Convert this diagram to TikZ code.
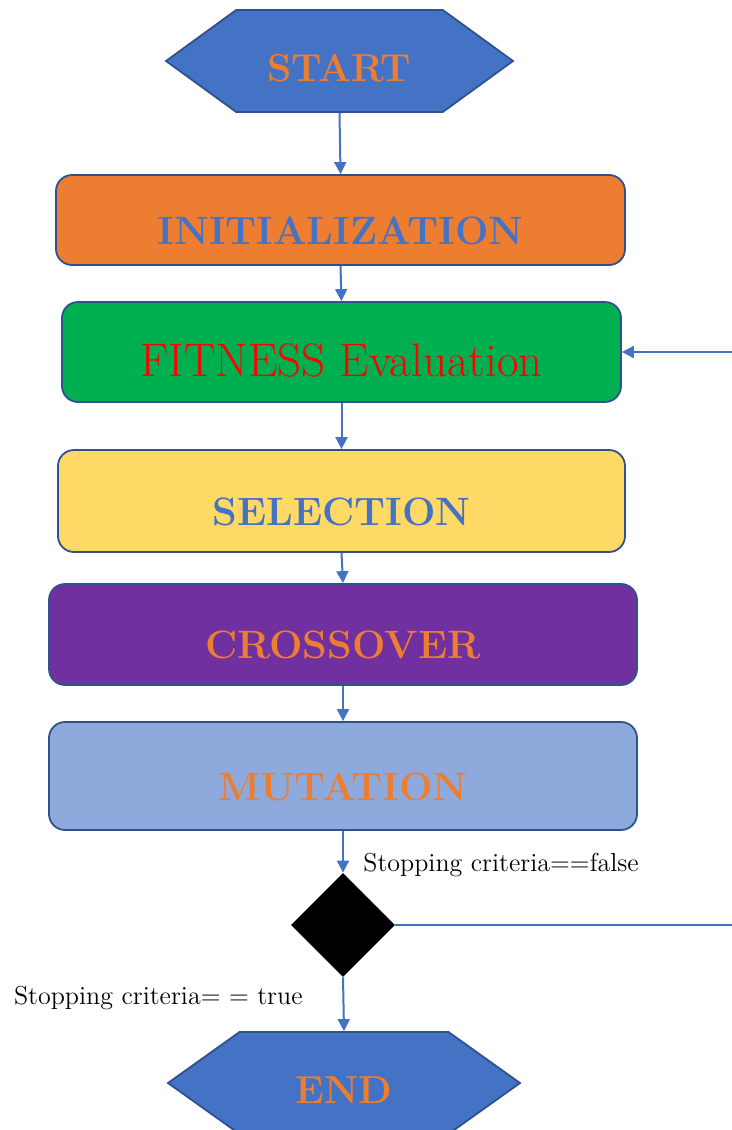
\documentclass[tikz,border=0pt]{standalone}
\usepackage{tikz}
\usetikzlibrary{shapes.geometric,shapes.symbols,arrows.meta}
\definecolor{hexblue}{HTML}{4472C4}
\definecolor{edgeblue}{HTML}{2F528F}
\definecolor{boxorange}{HTML}{ED7D31}
\definecolor{boxgreen}{HTML}{00B050}
\definecolor{boxyellow}{HTML}{FFD966}
\definecolor{boxpurple}{HTML}{7030A0}
\definecolor{boxlight}{HTML}{8EA9DB}
\tikzset{
	stage/.style={draw=edgeblue, line width=0.9pt, rounded corners=8pt, text height=24pt, text depth=0pt, font=\fontsize{19.8}{22}\selectfont\bfseries},
	terminal/.style={signal, signal to=east and west, draw=edgeblue, line width=0.9pt, fill=hexblue, text=boxorange, text height=20pt, text depth=0pt, font=\fontsize{19.5}{22}\selectfont\bfseries},
	flow/.style={draw=hexblue, line width=1pt, -{Triangle[width=6pt,length=6pt]}},
	plainflow/.style={draw=hexblue, line width=1pt},
	crit/.style={font=\fontsize{13}{15}\selectfont, inner sep=0pt}
}

\begin{document}
\begin{tikzpicture}[x=0.5pt, y=-0.5pt]
	\clip (0,0) rectangle (732,1130);
	\node[terminal, signal pointer angle=72, minimum width=173.5pt, minimum height=51pt] (start) at (339.5,61) {START};
	\node[stage, fill=boxorange, text=hexblue, minimum width=284.5pt, minimum height=45pt] (init) at (340.5,220) {INITIALIZATION};
	\node[stage, fill=boxgreen, text=red, font=\fontsize{23.5}{26}\selectfont, minimum width=279.5pt, minimum height=50pt] (fit) at (341.5,352) {FITNESS Evaluation};
	\node[stage, fill=boxyellow, text=hexblue, minimum width=283.5pt, minimum height=51pt] (sel) at (341.5,501) {SELECTION};
	\node[stage, fill=boxpurple, text=boxorange, minimum width=294pt, minimum height=50.5pt] (cross) at (343,634.5) {CROSSOVER};
	\node[stage, fill=boxlight, text=boxorange, minimum width=294pt, minimum height=54pt] (mut) at (343,776) {MUTATION};
	\node[diamond, fill=black, inner sep=0pt, minimum width=52pt, minimum height=52pt] (dec) at (343,925) {};
	\node[terminal, signal pointer angle=71, minimum width=176pt, minimum height=51pt] (end) at (344,1083) {END};
	\node[crit, anchor=west] (nostop) at (363,865) {Stopping criteria==false};
	\node[crit, anchor=east] (stop) at (303,998) {Stopping criteria= = true};
	\coordinate (loopin) at (732,352);
	\coordinate (loopout) at (732,925);
	\draw[flow] (start.south) -- (init.north);
	\draw[flow] (init.south) -- (fit.north);
	\draw[flow] (fit.south) -- (sel.north);
	\draw[flow] (sel.south) -- (cross.north);
	\draw[flow] (cross.south) -- (mut.north);
	\draw[flow] (mut.south) -- (dec.north);
	\draw[flow] (dec.south) -- (end.north);
	\draw[plainflow] (dec.east) -- (loopout);
	\draw[flow] (loopin) -- (fit.east);
\end{tikzpicture}
\end{document}
